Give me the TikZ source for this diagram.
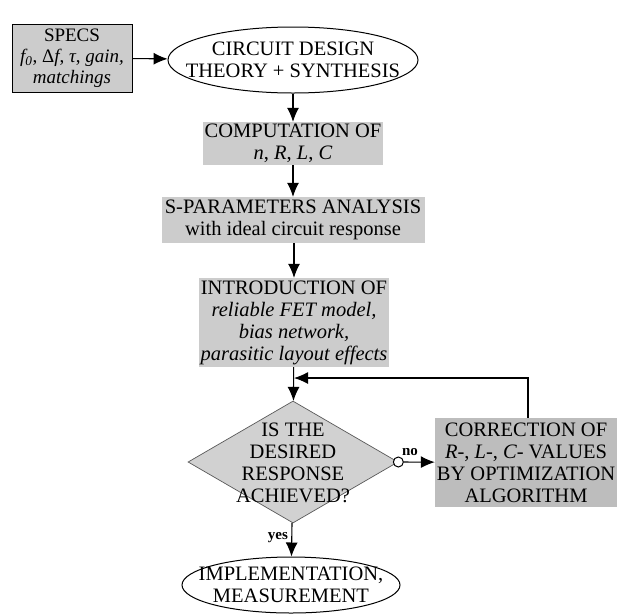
\documentclass[tikz,border=0pt]{standalone}
\usepackage{fontspec}
\setmainfont{Liberation Serif}
\usetikzlibrary{shapes.geometric,arrows.meta}
\definecolor{boxgray}{gray}{0.80}
\definecolor{corrgray}{gray}{0.74}
\definecolor{diagray}{gray}{0.82}
\tikzset{
  txt/.style={font=\fontsize{20.5}{22}\selectfont, align=center},
  gbox/.style={txt, rectangle, fill=boxgray, inner sep=0pt},
  oval/.style={ellipse, draw, line width=1pt, inner sep=0pt},
  arr/.style={line width=1.1pt, -{Latex[length=14pt,width=12pt]}},
  lbl/.style={font=\fontsize{15}{16}\selectfont\bfseries}
}
\begin{document}
\begin{tikzpicture}[x=1pt,y=-1pt]
\useasboundingbox (0,0) rectangle (618,614);
\fill[white] (0,0) rectangle (618,614);

\node[gbox, draw, line width=0.7pt, minimum width=120, minimum height=68, font=\fontsize{19}{21}\selectfont] (specs) at (72,58)
  {SPECS\\ \itshape f\textsubscript{0}\upshape, Δ\itshape f\upshape, \itshape τ\upshape, \itshape gain,\\ \itshape matchings};
\node[oval, minimum width=250, minimum height=66] (design) at (293,60) {};
\node[txt] at (design) {CIRCUIT DESIGN\\THEORY + SYNTHESIS};
\node[gbox, minimum width=180, minimum height=43] (comp) at (293,143.5)
  {COMPUTATION OF\\ \itshape n\upshape, \itshape R\upshape, \itshape L\upshape, \itshape C};
\node[gbox, minimum width=263, minimum height=46] (spar) at (293,220)
  {S-PARAMETERS ANALYSIS\\with ideal circuit response};
\node[gbox, minimum width=190, minimum height=89] (intro) at (294,322.5)
  {INTRODUCTION OF\\ \itshape reliable FET model,\\ \itshape bias network,\\ \itshape parasitic layout effects};
\node[diamond, draw=gray!70!black, line width=0.7pt, fill=diagray, minimum width=210, minimum height=122, inner sep=0pt] (decide) at (293,462) {};
\node[txt] at (293,463) {IS THE\\DESIRED\\RESPONSE\\ACHIEVED?};
\node[gbox, fill=corrgray, minimum width=182, minimum height=89] (corr) at (526,462.5)
  {CORRECTION OF\\ \itshape R\upshape-, \itshape L\upshape-, \itshape C\upshape- VALUES\\BY OPTIMIZATION\\ALGORITHM};
\node[oval, minimum width=218, minimum height=56] (impl) at (291,585) {};
\node[txt] at (impl) {IMPLEMENTATION,\\MEASUREMENT};
\node[circle, draw, line width=1pt, fill=white, inner sep=0pt, minimum size=10pt] (nc) at (decide.east) {};
\coordinate (j) at (294,378);

\draw[arr] (specs) -- (design);
\draw[arr] (design) -- (comp);
\draw[arr] (comp) -- (spar);
\draw[arr] (spar.south -| intro.north) -- (intro);
\draw[arr] (intro) -- (decide);
\draw[arr] (nc) -- (corr);
\draw[arr] (corr.north -| 528,0) |- (j);
\draw[arr] (decide) -- node[lbl, left, pos=0.45] {yes} (impl);
\node[lbl] at (410,452) {no};
\end{tikzpicture}
\end{document}
